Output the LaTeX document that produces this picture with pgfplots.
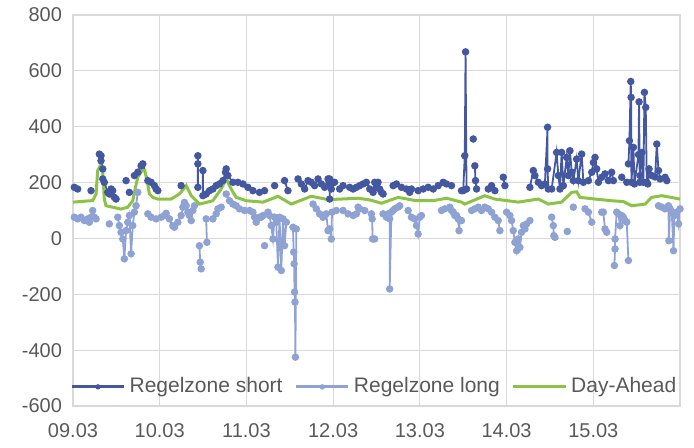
\documentclass[border=0pt]{standalone}
\usepackage{pgfplots}
\pgfplotsset{compat=1.18}
\usepackage{fontspec}
\setmainfont{Liberation Sans}
\definecolor{shortc}{HTML}{4458A2}
\definecolor{longc}{HTML}{8FA2D4}
\definecolor{dac}{HTML}{8CC346}
\definecolor{gridc}{HTML}{D9D9D9}
\definecolor{txtc}{HTML}{595959}
\begin{document}
\begin{tikzpicture}
\useasboundingbox (-36.5pt,-20.5pt) rectangle (310.5pt,203pt);
\begin{axis}[
    scale only axis,
    width=303.5pt, height=195.5pt,
    xmin=0, xmax=7, ymin=-600, ymax=800,
    xtick={0,1,2,3,4,5,6},
    xticklabels={09.03,10.03,11.03,12.03,13.03,14.03,15.03},
    ytick={-600,-400,-200,0,200,400,600,800},
    yticklabels={-600,-400,-200,0,200,400,600,800},
    grid=major,
    grid style={gridc, line width=0.6pt},
    axis line style={gridc, line width=0.6pt},
    major tick length=0pt,
    tick label style={font=\fontsize{10}{12}\selectfont, text=txtc},
    xticklabel style={yshift=-5pt},
    yticklabel style={xshift=-2pt},
    unbounded coords=jump,
    legend columns=3,
    legend style={at={(0.498,0.049)}, anchor=center, draw=none, fill=none,
        font=\fontsize{10.5}{12}\selectfont, text=txtc,
        /tikz/every even column/.append style={column sep=4pt},
        nodes={inner xsep=2pt}},
    legend image code/.code={\draw[line width=1.5pt, mark repeat=2, mark phase=2,
        mark options={line width=0.4pt, scale=0.8}]
        plot coordinates {(0cm,0cm) (0.46cm,0cm) (0.92cm,0cm)};},
]

% Regelzone short
\addplot[shortc, line width=0.9pt, mark=*, mark size=1.4pt] coordinates {
(0.015,183) (0.054,177) (0.1,nan)
(0.208,171) (0.25,nan)
(0.304,302) (0.323,296) (0.323,278) (0.343,249) (0.343,213) (0.361,201) (0.401,165) (0.419,159) (0.439,177) (0.458,171) (0.477,147) (0.497,141) (0.55,nan)
(0.612,207) (0.63,nan) (0.650,165) (0.68,nan)
(0.708,225) (0.747,237) (0.785,260) (0.805,267) (0.863,207) (0.901,201) (0.939,189) (0.958,177) (0.978,171) (1.1,nan)
(1.247,189) (1.3,nan)
(1.440,296) (1.440,267) (1.440,183) (1.47,nan)
(1.498,243) (1.498,153) (1.536,159) (1.574,171) (1.613,177) (1.651,189) (1.689,195) (1.729,207) (1.759,237) (1.767,249) (1.786,225) (1.844,201) (1.902,201) (1.960,195) (2.017,183) (2.075,171) (2.151,165) (2.209,171) (2.28,nan)
(2.325,189) (2.38,nan)
(2.440,207) (2.479,171) (2.55,nan)
(2.595,213) (2.633,195) (2.671,177) (2.710,207) (2.748,201) (2.786,189) (2.826,213) (2.864,195) (2.902,183) (2.941,213) (2.960,195) (2.960,141) (2.960,213) (2.979,177) (3.017,201) (3.05,nan)
(3.075,177) (3.114,189) (3.15,nan)
(3.190,183) (3.230,177) (3.268,183) (3.306,189) (3.345,195) (3.383,201) (3.422,177) (3.461,165) (3.479,201) (3.499,183) (3.518,201) (3.537,177) (3.557,165) (3.576,159) (3.64,nan)
(3.692,189) (3.730,195) (3.788,183) (3.845,177) (3.883,165) (3.903,177) (3.94,nan)
(3.980,171) (4.038,177) (4.096,183) (4.154,177) (4.211,189) (4.269,201) (4.307,195) (4.365,189) (4.42,nan)
(4.480,171) (4.500,171) (4.518,296) (4.527,668) (4.538,177) (4.58,nan)
(4.616,356) (4.625,nan)
(4.634,260) (4.642,207) (4.654,177) (4.72,nan)
(4.789,177) (4.827,189) (4.865,171) (4.92,nan)
(4.962,219) (4.981,189) (5.1,nan)
(5.269,183) (5.308,243) (5.327,225) (5.366,201) (5.404,189) (5.442,195) (5.473,398) (5.473,249) (5.481,177) (5.520,177) (5.577,308) (5.597,225) (5.616,177) (5.635,308) (5.655,189) (5.693,290) (5.712,225) (5.731,314) (5.751,237) (5.770,207) (5.808,284) (5.828,207) (5.866,302) (5.886,201) (5.944,207) (5.982,237) (6.001,272) (6.020,290) (6.039,249) (6.059,201) (6.097,219) (6.135,231) (6.174,207) (6.212,237) (6.232,207) (6.28,nan)
(6.328,219) (6.386,201) (6.395,nan)
(6.405,267) (6.417,350) (6.432,562) (6.436,505) (6.440,201) (6.463,326) (6.475,195) (6.521,300) (6.528,489) (6.536,201) (6.540,225) (6.559,308) (6.578,201) (6.590,523) (6.605,469) (6.617,201) (6.628,195) (6.643,249) (6.674,225) (6.713,220) (6.732,338) (6.752,243) (6.771,213) (6.8,nan)
(6.828,219) (6.848,207)
};
\addlegendentry{Regelzone short}

% Regelzone long
\addplot[longc, line width=0.9pt, mark=*, mark size=1.4pt] coordinates {
(0.015,76) (0.054,70) (0.092,76) (0.130,64) (0.170,70) (0.188,58) (0.208,76) (0.227,100) (0.246,76) (0.266,70) (0.35,nan)
(0.419,52) (0.48,nan)
(0.516,76) (0.535,46) (0.554,22) (0.574,-2) (0.592,-73) (0.612,28) (0.632,58) (0.650,82) (0.670,-55) (0.689,46) (0.708,94) (0.727,117) (0.747,165) (0.8,nan)
(0.863,88) (0.901,76) (0.958,70) (1.016,76) (1.054,82) (1.074,90) (1.112,70) (1.151,45) (1.170,40) (1.209,58) (1.247,82) (1.267,112) (1.285,129) (1.305,117) (1.324,94) (1.343,82) (1.363,64) (1.382,100) (1.401,117) (1.43,nan)
(1.458,-26) (1.467,-85) (1.478,-109) (1.5,nan)
(1.536,70) (1.544,-14) (1.58,nan)
(1.613,70) (1.651,88) (1.671,106) (1.709,112) (1.74,nan)
(1.767,159) (1.805,135) (1.844,123) (1.882,117) (1.920,106) (1.978,100) (2.036,100) (2.075,94) (2.094,76) (2.113,58) (2.151,76) (2.171,76) (2.191,82) (2.2,nan)
(2.209,-26) (2.23,nan)
(2.248,94) (2.267,82) (2.286,46) (2.306,-2) (2.325,76) (2.344,58) (2.364,-103) (2.382,76) (2.402,-115) (2.422,70) (2.440,-26) (2.460,58) (2.5,nan)
(2.537,40) (2.545,-49) (2.550,-91) (2.555,-192) (2.560,-228) (2.565,-425) (2.575,34) (2.65,nan)
(2.768,123) (2.806,106) (2.844,88) (2.883,76) (2.921,88) (2.941,28) (2.960,34) (2.979,-2) (2.987,94) (3.037,100) (3.08,nan)
(3.114,100) (3.172,88) (3.230,82) (3.268,88) (3.288,112) (3.306,106) (3.364,100) (3.4,nan)
(3.441,88) (3.450,70) (3.455,-2) (3.479,-2) (3.53,nan)
(3.576,88) (3.614,76) (3.634,88) (3.652,70) (3.652,-181) (3.672,94) (3.692,100) (3.710,106) (3.749,112) (3.768,117) (3.82,nan)
(3.865,100) (3.903,76) (3.941,70) (3.961,46) (3.980,16) (3.999,76) (4.018,82) (4.1,nan)
(4.249,100) (4.288,106) (4.345,112) (4.365,100) (4.385,94) (4.403,82) (4.423,82) (4.442,70) (4.452,28) (4.461,64) (4.480,64) (4.55,nan)
(4.596,100) (4.634,106) (4.673,112) (4.711,100) (4.749,112) (4.789,106) (4.827,94) (4.865,76) (4.904,64) (4.923,28) (4.96,nan)
(5.000,94) (5.038,82) (5.058,64) (5.077,28) (5.096,-14) (5.116,-44) (5.135,-2) (5.154,-32) (5.173,22) (5.193,46) (5.212,34) (5.231,52) (5.269,64) (5.4,nan)
(5.520,76) (5.539,46) (5.545,10) (5.558,4) (5.6,nan)
(5.700,25) (5.74,nan)
(5.770,112) (5.8,nan)
(5.905,106) (5.944,94) (5.982,58) (6.05,nan)
(6.097,94) (6.116,94) (6.135,34) (6.155,22) (6.2,nan)
(6.243,-97) (6.251,-38) (6.251,-2) (6.270,94) (6.290,88) (6.308,46) (6.328,82) (6.347,76) (6.366,64) (6.386,58) (6.405,-79) (6.5,nan)
(6.752,117) (6.790,112) (6.828,106) (6.867,117) (6.872,-8) (6.886,106) (6.905,94) (6.925,-44) (6.935,82) (6.963,94) (6.983,52) (7.0,106)
};
\addlegendentry{Regelzone long}

% Day-Ahead
\addplot[dac, line width=1.5pt, no marks] coordinates {
(0,130) (0.208,135) (0.227,135) (0.266,159) (0.285,243) (0.315,260) (0.343,237) (0.361,141) (0.381,117) (0.439,113) (0.554,105) (0.632,112) (0.689,135) (0.708,165) (0.747,219) (0.797,243) (0.827,243) (0.858,201) (0.881,159) (0.920,147) (0.978,141) (1.132,141) (1.227,159) (1.305,189) (1.363,153) (1.458,123) (1.613,135) (1.709,177) (1.767,213) (1.824,177) (1.882,147) (1.998,135) (2.191,130) (2.286,141) (2.364,151) (2.517,123) (2.748,151) (2.941,139) (3.095,141) (3.288,144) (3.422,138) (3.557,126) (3.749,147) (3.961,135) (4.154,135) (4.307,144) (4.480,130) (4.518,123) (4.749,153) (4.865,141) (5.135,130) (5.366,141) (5.481,123) (5.635,130) (5.751,165) (5.808,167) (5.847,147) (6.020,141) (6.212,135) (6.347,132) (6.443,117) (6.597,123) (6.674,147) (6.790,153) (7.0,141)
};
\addlegendentry{Day-Ahead}

\end{axis}
\end{tikzpicture}
\end{document}
